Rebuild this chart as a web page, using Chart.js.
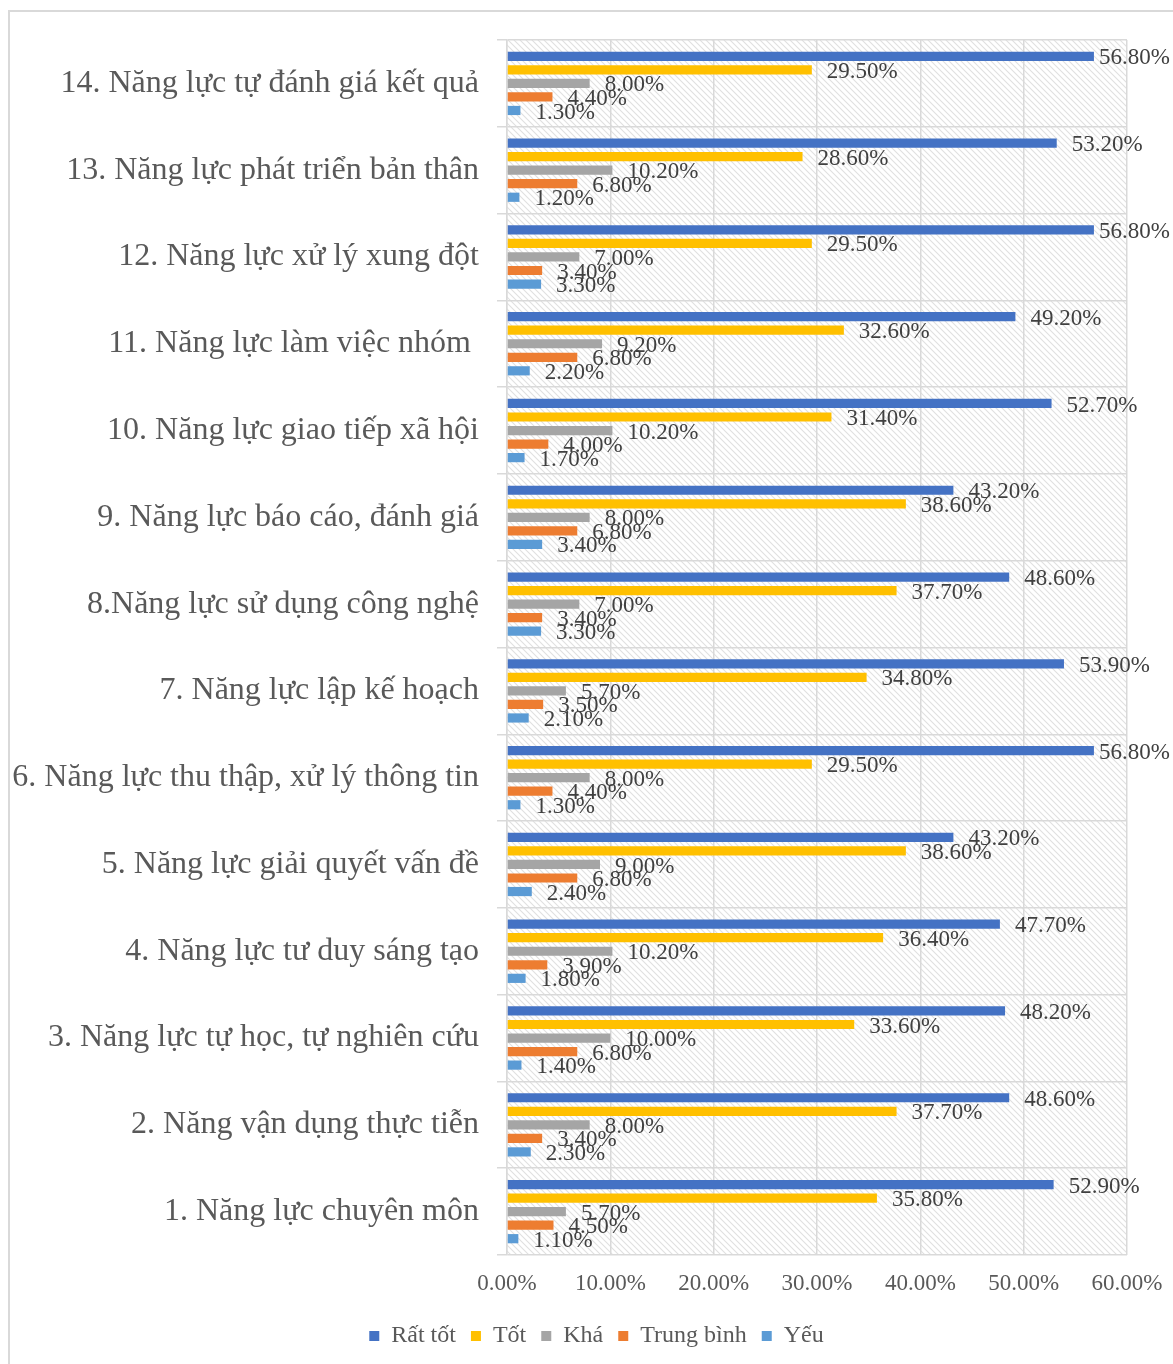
<!DOCTYPE html>
<html>
<head>
<meta charset="utf-8">
<script src="https://cdn.jsdelivr.net/npm/chart.js@4.4.1/dist/chart.umd.min.js"></script>
<style>
  html, body { margin: 0; padding: 0; background: #fff; overflow: hidden; }
  #frame { position: absolute; left: 8px; top: 10px; width: 1200px; height: 1400px; border: 2px solid #d9d9d9; box-sizing: border-box; }
  #chart { position: absolute; left: 0; top: 0; }
</style>
</head>
<body>
<div id="frame"></div>
<canvas id="chart" width="1173" height="1364"></canvas>
<script>
// criteria, listed top to bottom as they appear on the chart
const labels = [
  '14. Năng lực tự đánh giá kết quả',
  '13. Năng lực phát triển bản thân',
  '12. Năng lực xử lý xung đột',
  '11. Năng lực làm việc nhóm ',
  '10. Năng lực giao tiếp xã hội',
  '9. Năng lực báo cáo, đánh giá',
  '8.Năng lực sử dụng công nghệ',
  '7. Năng lực lập kế hoạch',
  '6. Năng lực thu thập, xử lý thông tin',
  '5. Năng lực giải quyết vấn đề',
  '4. Năng lực tư duy sáng tạo',
  '3. Năng lực tự học, tự nghiên cứu',
  '2. Năng vận dụng thực tiễn',
  '1. Năng lực chuyên môn'
];

const ratTot     = [56.8, 53.2, 56.8, 49.2, 52.7, 43.2, 48.6, 53.9, 56.8, 43.2, 47.7, 48.2, 48.6, 52.9];
const tot        = [29.5, 28.6, 29.5, 32.6, 31.4, 38.6, 37.7, 34.8, 29.5, 38.6, 36.4, 33.6, 37.7, 35.8];
const kha        = [8.0, 10.2, 7.0, 9.2, 10.2, 8.0, 7.0, 5.7, 8.0, 9.0, 10.2, 10.0, 8.0, 5.7];
const trungBinh  = [4.4, 6.8, 3.4, 6.8, 4.0, 6.8, 3.4, 3.5, 4.4, 6.8, 3.9, 6.8, 3.4, 4.5];
const yeu        = [1.3, 1.2, 3.3, 2.2, 1.7, 3.4, 3.3, 2.1, 1.3, 2.4, 1.8, 1.4, 2.3, 1.1];

const xTicks = [0, 10, 20, 30, 40, 50, 60];

const serif = "'Liberation Serif', 'Times New Roman', serif";

// diagonal hatch used behind the plot
function makeHatch() {
  const c = document.createElement('canvas');
  c.width = 6; c.height = 6;
  const g = c.getContext('2d');
  g.fillStyle = '#ffffff';
  g.fillRect(0, 0, 6, 6);
  g.strokeStyle = '#e0e0e0';
  g.lineWidth = 1.1;
  g.beginPath();
  g.moveTo(-1, -1); g.lineTo(7, 7);
  g.moveTo(-1, 5); g.lineTo(1, 7);
  g.moveTo(5, -1); g.lineTo(7, 1);
  g.stroke();
  return g.createPattern(c, 'repeat');
}

const hatchBackground = {
  id: 'hatchBackground',
  beforeDraw(chart) {
    const { ctx, chartArea: a } = chart;
    ctx.save();
    ctx.fillStyle = makeHatch();
    ctx.fillRect(a.left, a.top, a.right - a.left, a.bottom - a.top);
    ctx.restore();
  }
};

// legend sits a little right of the canvas centre
const legendShift = {
  id: 'legendShift',
  afterLayout(chart) {
    chart.legend.left += 33;
    chart.legend.right += 33;
  }
};

// value labels to the right of each bar
const valueLabels = {
  id: 'valueLabels',
  afterDatasetsDraw(chart) {
    const ctx = chart.ctx;
    ctx.save();
    ctx.font = '23px ' + serif;
    ctx.fillStyle = '#404040';
    ctx.textBaseline = 'middle';
    ctx.textAlign = 'left';
    chart.data.datasets.forEach((ds, di) => {
      const meta = chart.getDatasetMeta(di);
      meta.data.forEach((bar, i) => {
        const text = ds.data[i].toFixed(2) + '%';
        const w = ctx.measureText(text).width;
        let x = bar.x + 15;
        if (x + w > chart.width - 3) x = chart.width - 3 - w;
        ctx.fillText(text, x, bar.y + 2);
      });
    });
    ctx.restore();
  }
};

const series = [
  ['Rất tốt', ratTot, '#4472C4'],
  ['Tốt', tot, '#FFC000'],
  ['Khá', kha, '#A5A5A5'],
  ['Trung bình', trungBinh, '#ED7D31'],
  ['Yếu', yeu, '#5B9BD5']
];

new Chart(document.getElementById('chart'), {
  type: 'bar',
  data: {
    labels: labels,
    datasets: series.map(([name, values, color]) => ({
      label: name,
      data: values,
      backgroundColor: color,
      borderWidth: 0,
      categoryPercentage: 0.78,
      barPercentage: 0.68
    }))
  },
  options: {
    indexAxis: 'y',
    responsive: false,
    animation: false,
    layout: { padding: { top: 40, right: 46, left: 0, bottom: 6 } },
    plugins: {
      legend: {
        position: 'bottom',
        labels: {
          boxWidth: 10,
          boxHeight: 10,
          padding: 15,
          color: '#595959',
          font: { family: serif, size: 24 }
        }
      },
      tooltip: { enabled: false }
    },
    scales: {
      x: {
        min: 0,
        max: 60,
        afterBuildTicks(scale) {
          scale.ticks = xTicks.map(v => ({ value: v }));
        },
        afterFit(scale) {
          scale.height = 54;
          scale.paddingLeft = 0;
          scale.paddingRight = 0;
        },
        grid: { color: '#d9d9d9', lineWidth: 1.5, drawTicks: false },
        border: { display: false },
        ticks: {
          padding: 15,
          color: '#595959',
          font: { family: serif, size: 23 },
          callback: v => v.toFixed(2) + '%'
        }
      },
      y: {
        afterFit(scale) { scale.width = 507; },
        grid: { color: '#d9d9d9', lineWidth: 1.5, tickLength: 10, offset: true },
        border: { color: '#d9d9d9', width: 1.5 },
        ticks: {
          padding: 18,
          color: '#595959',
          font: { family: serif, size: 32 }
        }
      }
    }
  },
  plugins: [hatchBackground, legendShift, valueLabels]
});
</script>
</body>
</html>
